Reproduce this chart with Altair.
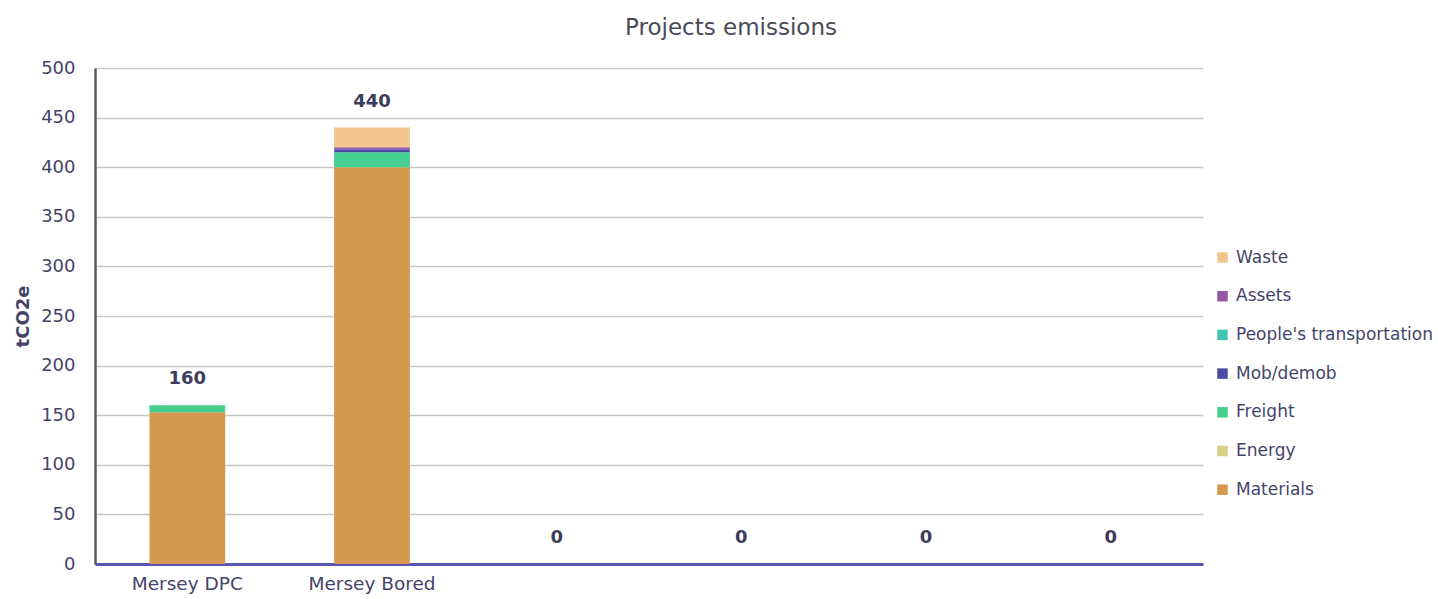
import altair as alt
import pandas as pd

# Project slots on the x axis (the last four are unnamed, empty slots)
projects = ["Mersey DPC", "Mersey Bored", " ", "  ", "   ", "    "]

# Emission sources, bottom of the stack first
sources = ["Materials", "Energy", "Freight", "Mob/demob",
           "People's transportation", "Assets", "Waste"]
colors = ["#D4994F", "#D9CF85", "#45CF8F", "#4B4BA6",
          "#40C4B4", "#9458A8", "#F2C48E"]

# tCO2e per source for each project slot
materials = [153, 400, 0, 0, 0, 0]
energy    = [0, 0, 0, 0, 0, 0]
freight   = [7, 15, 0, 0, 0, 0]
mob_demob = [0, 3, 0, 0, 0, 0]
people    = [0, 0, 0, 0, 0, 0]
assets    = [0, 2, 0, 0, 0, 0]
waste     = [0, 20, 0, 0, 0, 0]

series = [materials, energy, freight, mob_demob, people, assets, waste]

rows = []
for k, (src, vals) in enumerate(zip(sources, series)):
    for p, v in zip(projects, vals):
        rows.append({"project": p, "source": src, "order": k, "value": v})
df = pd.DataFrame(rows)

totals = pd.DataFrame({
    "project": projects,
    "total": [sum(s[i] for s in series) for i in range(len(projects))],
})

FONT = "DejaVu Sans"
TEXT = "#44446a"

x_enc = alt.X(
    "project:N",
    sort=projects,
    title=None,
    scale=alt.Scale(paddingInner=0.59, paddingOuter=0.295),
    axis=alt.Axis(
        labelAngle=0,
        labelFont=FONT,
        labelFontSize=18.5,
        labelColor=TEXT,
        labelPadding=10,
        ticks=False,
        domainColor="#5B56B8",
        domainWidth=3,
        grid=False,
    ),
)

bars = alt.Chart(df).mark_bar().encode(
    x=x_enc,
    y=alt.Y(
        "sum(value):Q",
        stack="zero",
        title="tCO2e",
        scale=alt.Scale(domain=[0, 500], nice=False),
        axis=alt.Axis(
            values=list(range(0, 501, 50)),
            labelFont=FONT,
            labelFontSize=18,
            labelColor=TEXT,
            labelPadding=20,
            ticks=False,
            domainColor="#5a5a5a",
            domainWidth=2.5,
            gridColor="#c6c6c6",
            gridWidth=1.5,
            titleFont=FONT,
            titleFontSize=18,
            titleFontWeight="bold",
            titleColor=TEXT,
            titleX=-72,
            titleY=248,
            titleAngle=-90,
            titleAlign="center",
            titleBaseline="middle",
        ),
    ),
    color=alt.Color(
        "source:N",
        scale=alt.Scale(domain=sources[::-1], range=colors[::-1]),
        legend=alt.Legend(
            title=None,
            orient="none",
            legendX=1119,
            legendY=181,
            padding=0,
            symbolType="square",
            symbolSize=110,
            symbolStrokeWidth=0,
            labelFont=FONT,
            labelFontSize=17,
            labelColor=TEXT,
            labelOffset=5,
            labelLimit=0,
            rowPadding=20.7,
        ),
    ),
    order=alt.Order("order:Q", sort="ascending"),
)

labels = alt.Chart(totals).mark_text(
    font=FONT,
    fontSize=18,
    fontWeight="bold",
    color="#3c3c5c",
    baseline="middle",
    dy=-26,
).encode(
    x=alt.X("project:N", sort=projects),
    y=alt.Y("total:Q"),
    text=alt.Text("total:Q", format="d"),
)

chart = (
    alt.layer(bars, labels)
    .properties(
        width=1108,
        height=496,
        background="white",
        title=alt.TitleParams(
            "Projects emissions",
            font=FONT,
            fontSize=23,
            fontWeight="normal",
            color="#4a4a58",
            dx=82,
            offset=19,
        ),
        autosize=alt.AutoSizeParams(type="none"),
        padding={"left": 95, "top": 68, "right": 235, "bottom": 35},
    )
    .configure_view(stroke=None, strokeWidth=0)
)

chart.save("out.html", embed_options={"renderer": "svg", "actions": False})
